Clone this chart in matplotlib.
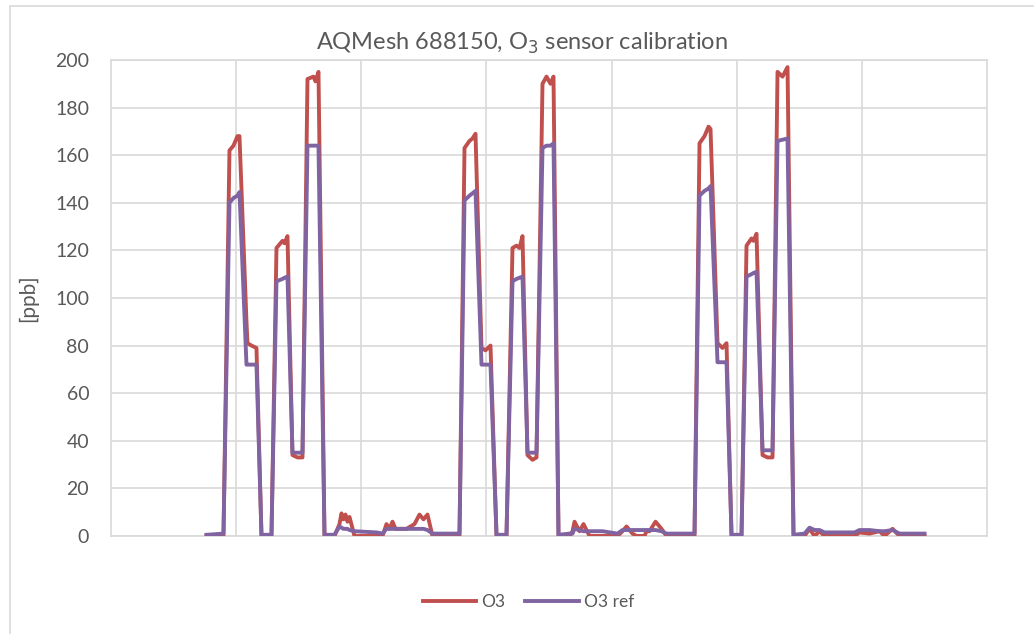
#!/usr/bin/env python3
"""
AQMesh 688150 O3 sensor calibration chart
"""

import matplotlib
matplotlib.use("Agg")
import matplotlib.pyplot as plt
from matplotlib.patches import Rectangle

# elapsed time (minutes from start of axis) and readings in ppb
time_min = [95, 112, 118, 122, 126, 128, 135, 136, 140, 145, 150, 160, 165, 171, 173, 176,
            181, 186, 191, 196, 202, 204, 207, 213, 223, 228, 230, 232, 234, 236, 238, 243,
            265, 271, 275, 278, 281, 284, 295, 303, 308, 312, 316, 321, 348,
            353, 358, 361, 364, 370, 374, 379, 385, 395, 401, 405, 408, 411, 416, 421, 425,
            431, 435, 439, 442, 447, 458, 461, 463, 468, 472, 478, 491, 506, 511, 515, 521,
            525, 533, 535, 538, 544, 550, 555, 583,
            588, 593, 597, 599, 606, 611, 615, 620, 630, 635, 640, 642, 645, 651, 656, 661,
            666, 671, 676, 682, 693, 698, 703, 708, 713, 743, 748, 758, 768, 773, 781, 788, 813]

o3 = [0, 0, 162, 164, 168, 168, 90, 81, 80, 79, 0, 0, 121, 124, 123, 126,
      34, 33, 33, 192, 193, 191, 195, 0, 0, 5, 9.5, 7, 9, 6, 8, 0,
      0, 0, 5, 3, 6, 3, 3, 5, 9, 7, 9, 0, 0,
      163, 166, 167, 169, 79, 78, 80, 0, 0, 121, 122, 121, 126, 34, 32, 33,
      190, 193, 190, 193, 0, 0, 2, 6, 2, 5, 0, 0, 0, 2, 4, 1,
      0, 0, 2, 2, 6, 3, 0, 0,
      165, 168, 172, 171, 81, 79, 81, 0, 0, 122, 125, 124, 127, 34, 33, 33,
      195, 193, 197, 0, 0, 3, 0, 2, 0, 0, 1.5, 1, 2, 0, 3, 0, 0]

o3_ref = [0.5, 1, 140, 142, 143, 144.5, 72, 72, 72, 72, 0.5, 0.5, 107, 108, 108.5, 109,
          35, 35, 35, 164, 164, 164, 164, 0.5, 0.5, 4, 3.5, 3, 3, 3, 2.5, 2,
          1.5, 1, 3, 3, 3, 3, 3, 3, 3, 3, 2.5, 1, 1,
          141, 143, 144, 145, 72, 72, 72, 0.5, 0.5, 107, 108, 108.5, 109, 35, 35, 35,
          163, 164, 164, 165, 0.5, 1, 1, 3, 2.5, 2, 2, 2, 1, 2.5, 2.5, 2.5,
          2.5, 2.5, 2.5, 2.5, 2.5, 2, 1, 1,
          143, 145, 146, 147, 73, 73, 73, 0.5, 0.5, 109, 110, 110.5, 111, 36, 36, 36,
          166, 166.5, 167, 0.5, 1, 3.5, 2.5, 2.5, 1.5, 1.5, 2.5, 2.5, 2, 2, 2.5, 1, 1]

series_names = ["O3", "O3 ref"]
y_ticks = list(range(0, 201, 20))

text_color = "#595959"
grid_color = "#d9d9d9"
plt.rcParams["font.family"] = ["Lato", "DejaVu Sans"]

fig = plt.figure(figsize=(10.34, 6.34), dpi=100)
ax = fig.add_axes([0.1078, 0.1546, 0.8463, 0.7508])

# chart border
fig.patches.append(Rectangle((10 / 1034, -0.05), 1.1, 1.05 - 6 / 634, transform=fig.transFigure,
                             fill=False, edgecolor=grid_color, linewidth=1.2))

ax.plot(time_min, o3, color="#C0504D", linewidth=2.8, label=series_names[0],
        solid_joinstyle="round", zorder=3)
ax.plot(time_min, o3_ref, color="#8064A2", linewidth=2.8, label=series_names[1],
        solid_joinstyle="round", zorder=4)

ax.set_xlim(0, 875)
ax.set_ylim(0, 200)
ax.set_yticks(y_ticks)
ax.set_xticks(range(125, 875, 125))
ax.tick_params(axis="x", length=0, labelbottom=False)
ax.tick_params(axis="y", length=0, labelsize=14, labelcolor=text_color, pad=16)
ax.grid(True, color=grid_color, linewidth=1.2)
ax.set_axisbelow(True)
for side in ["left", "right", "top", "bottom"]:
    ax.spines[side].set_color(grid_color)
    ax.spines[side].set_linewidth(1.2)

ax.set_ylabel("[ppb]", fontsize=15, color=text_color, labelpad=12)

# title and legend are centred on the chart, not the plot area
fig.text(0.505, 0.932, "AQMesh 688150, O$_3$ sensor calibration", fontsize=17,
         color=text_color, ha="center", va="center")

fig.legend(loc="center", bbox_to_anchor=(0.511, 0.051), ncol=2, frameon=False,
           fontsize=12.5, labelcolor=text_color, handlelength=3.1, handletextpad=0.3,
           columnspacing=1.1)

fig.savefig("out.png", dpi=100)
plt.close(fig)
